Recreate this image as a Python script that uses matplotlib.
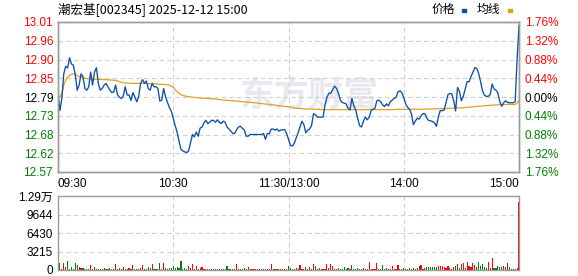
import numpy as np
import matplotlib
matplotlib.use("Agg")
import matplotlib.pyplot as plt
from matplotlib.patches import Rectangle

plt.rcParams['font.family'] = ['Liberation Sans', 'Noto Sans CJK SC', 'DejaVu Sans']

# data (minute by minute, 09:30 .. 11:30 / 13:00 .. 15:00)
prev_close = 12.79
price = [
    12.80, 12.75, 12.786, 12.858, 12.88, 12.875, 12.905, 12.887, 12.883, 12.854, 12.81,
    12.825, 12.858, 12.85, 12.815, 12.81, 12.82, 12.863, 12.825, 12.863, 12.876,
    12.83, 12.81, 12.815, 12.825, 12.83, 12.82, 12.81, 12.803, 12.805, 12.825,
    12.796, 12.789, 12.786, 12.793, 12.82, 12.796, 12.796, 12.78, 12.803, 12.79,
    12.776, 12.791, 12.83, 12.841, 12.83, 12.837, 12.815, 12.81, 12.83, 12.82,
    12.82, 12.815, 12.778, 12.781, 12.815, 12.791, 12.774, 12.759, 12.748, 12.728,
    12.706, 12.687, 12.661, 12.637, 12.632, 12.629, 12.627, 12.632, 12.656, 12.68,
    12.673, 12.687, 12.675, 12.699, 12.702, 12.714, 12.722, 12.712, 12.716, 12.722,
    12.721, 12.716, 12.723, 12.716, 12.712, 12.719, 12.716, 12.702, 12.696, 12.69,
    12.683, 12.683, 12.694, 12.702, 12.704, 12.698, 12.693, 12.675, 12.675, 12.68,
    12.68, 12.68, 12.68, 12.68, 12.68, 12.68, 12.683, 12.666, 12.683, 12.682,
    12.696, 12.696, 12.693, 12.696, 12.69, 12.693, 12.694, 12.694, 12.683, 12.666,
    12.648, 12.646, 12.654, 12.67, 12.685, 12.702, 12.719, 12.709, 12.685, 12.693,
    12.696, 12.706, 12.741, 12.738, 12.731, 12.731, 12.731, 12.731, 12.767, 12.789,
    12.801, 12.801, 12.812, 12.822, 12.815, 12.801, 12.781, 12.774, 12.772, 12.77,
    12.757, 12.752, 12.786, 12.764, 12.752, 12.728, 12.706, 12.702, 12.719, 12.731,
    12.723, 12.731, 12.75, 12.754, 12.757, 12.779, 12.781, 12.776, 12.767, 12.762,
    12.77, 12.764, 12.776, 12.781, 12.786, 12.789, 12.805, 12.808, 12.803, 12.789,
    12.77, 12.76, 12.754, 12.741, 12.709, 12.719, 12.728, 12.725, 12.735, 12.741,
    12.741, 12.728, 12.721, 12.72, 12.718, 12.714, 12.704, 12.731, 12.75, 12.75,
    12.752, 12.773, 12.797, 12.80, 12.80, 12.779, 12.749, 12.818, 12.806, 12.779,
    12.792, 12.814, 12.835, 12.835, 12.85, 12.862, 12.876, 12.874, 12.859, 12.835,
    12.808, 12.795, 12.792, 12.792, 12.797, 12.828, 12.814, 12.81, 12.802, 12.776,
    12.763, 12.773, 12.779, 12.774, 12.773, 12.773, 12.773, 12.776, 12.90, 13.00,
]
avg_price = [
    12.79, 12.79, 12.80, 12.825, 12.84, 12.848, 12.853, 12.857, 12.858, 12.857, 12.853,
    12.85, 12.848, 12.846, 12.845, 12.844, 12.843, 12.843, 12.843, 12.842, 12.842,
    12.842, 12.842, 12.841, 12.841, 12.841, 12.840, 12.840, 12.840, 12.839, 12.839,
    12.837, 12.835, 12.833, 12.832, 12.831, 12.831, 12.831, 12.830, 12.830, 12.830,
    12.830, 12.830, 12.830, 12.830, 12.830, 12.830, 12.829, 12.829, 12.829, 12.829,
    12.828, 12.828, 12.827, 12.827, 12.827, 12.826, 12.826, 12.825, 12.822, 12.818,
    12.812, 12.806, 12.801, 12.797, 12.795, 12.793, 12.792, 12.791, 12.790, 12.789,
    12.789, 12.788, 12.788, 12.787, 12.787, 12.786, 12.786, 12.786, 12.785, 12.785,
    12.784, 12.784, 12.783, 12.783, 12.782, 12.781, 12.781, 12.780, 12.780, 12.779,
    12.779, 12.778, 12.778, 12.777, 12.777, 12.776, 12.776, 12.775, 12.775, 12.774,
    12.774, 12.773, 12.773, 12.772, 12.771, 12.771, 12.770, 12.769, 12.769, 12.768,
    12.767, 12.767, 12.766, 12.765, 12.764, 12.764, 12.763, 12.762, 12.762, 12.761,
    12.760, 12.759, 12.758, 12.757, 12.757, 12.756, 12.756, 12.755, 12.755, 12.755,
    12.755, 12.755, 12.754, 12.754, 12.754, 12.754, 12.753, 12.753, 12.753, 12.753,
    12.753, 12.753, 12.753, 12.753, 12.753, 12.753, 12.753, 12.753, 12.753, 12.753,
    12.753, 12.753, 12.753, 12.753, 12.753, 12.753, 12.753, 12.753, 12.753, 12.753,
    12.753, 12.753, 12.753, 12.753, 12.753, 12.753, 12.753, 12.753, 12.753, 12.753,
    12.753, 12.753, 12.753, 12.753, 12.753, 12.754, 12.754, 12.754, 12.754, 12.754,
    12.754, 12.754, 12.754, 12.754, 12.754, 12.754, 12.754, 12.754, 12.754, 12.754,
    12.755, 12.755, 12.755, 12.755, 12.755, 12.755, 12.755, 12.756, 12.756, 12.756,
    12.756, 12.756, 12.757, 12.757, 12.757, 12.757, 12.758, 12.758, 12.758, 12.758,
    12.759, 12.759, 12.760, 12.760, 12.761, 12.761, 12.762, 12.762, 12.763, 12.763,
    12.764, 12.764, 12.765, 12.765, 12.766, 12.766, 12.766, 12.767, 12.767, 12.767,
    12.767, 12.768, 12.768, 12.768, 12.768, 12.768, 12.768, 12.768, 12.772, 12.78,
]
volume = [
    300, 1276, 232, 1276, 464, 1566, 232, 464, 232, 1160, 812,
    464, 348, 348, 232, 232, 232, 812, 232, 464, 232,
    180, 250, 150, 300, 200, 170, 350, 220, 160, 1044,
    200, 280, 150, 464, 230, 180, 300, 250, 870, 200,
    170, 260, 350, 812, 200, 150, 464, 300, 1044, 220,
    180, 260, 1276, 200, 1276, 300, 250, 350, 280, 696,
    400, 464, 350, 1566, 250, 300, 200, 696, 400, 1044,
    250, 696, 200, 300, 464, 220, 180, 250, 160, 200,
    150, 230, 180, 260, 150, 200, 170, 696, 220, 180,
    250, 150, 1044, 200, 170, 230, 300, 180, 464, 200,
    150, 250, 180, 160, 220, 150, 260, 180, 200, 170,
    1044, 200, 150, 230, 180, 160, 250, 200, 180, 696,
    300, 250, 200, 350, 180, 870, 220, 150, 464, 200,
    464, 250, 1044, 696, 200, 300, 180, 250, 200, 1044,
    300, 1044, 696, 250, 200, 300, 180, 220, 464, 200,
    300, 250, 812, 200, 180, 300, 250, 200, 300, 250,
    200, 1450, 220, 250, 180, 1276, 200, 260, 870, 220,
    300, 250, 180, 696, 250, 200, 870, 220, 250, 300,
    250, 200, 300, 180, 350, 250, 300, 696, 870, 250,
    400, 580, 580, 580, 464, 580, 464, 696, 696, 696,
    464, 350, 696, 300, 250, 464, 696, 1044, 350, 1044,
    1276, 400, 1450, 696, 580, 1276, 870, 580, 1450, 696,
    1044, 464, 300, 1450, 350, 2030, 300, 350, 696, 464,
    580, 696, 464, 1276, 464, 250, 150, 200, 300, 11832,
]

price_labels = ['13.01', '12.96', '12.90', '12.85', '12.79', '12.73', '12.68', '12.62', '12.57']
pct_labels = ['1.76%', '1.32%', '0.88%', '0.44%', '0.00%', '0.44%', '0.88%', '1.32%', '1.76%']
vol_labels = ['0', '3215', '6430', '9644', '1.29万']
vol_max = 12859
time_labels = ['09:30', '10:30', '11:30/13:00', '14:00', '15:00']

RED = '#ff0000'
GREEN = '#008000'
GRID = '#cfcfcf'
SPINE = '#9a9a9a'

fig = plt.figure(figsize=(5.78, 2.76), dpi=100)
ax = fig.add_axes([58 / 578, 1 - 172 / 276, 461 / 578, 150 / 276])
axv = fig.add_axes([58 / 578, 1 - 270 / 276, 461 / 578, 74 / 276])

t = np.arange(len(price))

# watermark
ax.text(0.545, 0.51, '东方财富', transform=ax.transAxes, ha='center', va='center',
        fontsize=25, fontweight='bold', color='#e8e8ee', family='Noto Sans CJK SC', zorder=0)

ax.plot(t, avg_price, color='#e0a020', lw=0.9, zorder=3)
ax.plot(t, price, color='#0a50a8', lw=0.95, zorder=4)

ymin, ymax = 12.57, 13.01
ax.set_xlim(0, 240)
ax.set_ylim(ymin, ymax)
yt = np.linspace(ymax, ymin, len(price_labels))
ax.set_yticks(yt)
ax.set_yticklabels(price_labels)
for i, lab in enumerate(ax.get_yticklabels()):
    lab.set_color(RED if i < 4 else ('black' if i == 4 else GREEN))
ax.set_xticks([0, 60, 120, 180, 240])
ax.set_xticklabels(time_labels)
xl = ax.get_xticklabels()
xl[0].set_horizontalalignment('left')
xl[-1].set_horizontalalignment('right')
ax.tick_params(axis='both', length=0, labelsize=8.5)
ax.tick_params(axis='y', pad=3.5)
ax.tick_params(axis='x', pad=4)
for v in [60, 120, 180]:
    ax.axvline(v, color=GRID, lw=0.8, ls=(0, (4, 3)), zorder=1)
for v in yt[1:-1]:
    ax.axhline(v, color=GRID, lw=0.8, ls=(0, (4, 3)), zorder=1)

ax2 = ax.twinx()
ax2.set_ylim(ymin, ymax)
ax2.set_yticks(yt)
ax2.set_yticklabels(pct_labels)
for i, lab in enumerate(ax2.get_yticklabels()):
    lab.set_color(RED if i < 4 else ('black' if i == 4 else GREEN))
ax2.tick_params(axis='y', length=0, labelsize=8.5, pad=4)

for a in (ax, ax2, axv):
    for s in a.spines.values():
        s.set_color(SPINE)
        s.set_linewidth(1.0)

# volume bars
colors = [RED if i == 0 or price[i] >= price[i - 1] else GREEN for i in range(len(price))]
axv.bar(t, volume, width=0.6, color=colors, linewidth=0)
axv.set_xlim(0, 240)
axv.set_ylim(0, vol_max)
vt = np.linspace(0, vol_max, len(vol_labels))
axv.set_yticks(vt)
axv.set_yticklabels(vol_labels)
axv.set_xticks([])
axv.tick_params(axis='y', length=0, labelsize=8.5, pad=3.5)
for v in [60, 120, 180]:
    axv.axvline(v, color=GRID, lw=0.8, ls=(0, (4, 3)), zorder=0)
for v in vt[1:-1]:
    axv.axhline(v, color=GRID, lw=0.8, ls=(0, (4, 3)), zorder=0)

# title + legend
fig.text(58 / 578, 1 - 9 / 276, '潮宏基[002345] 2025-12-12 15:00', ha='left', va='center',
         fontsize=9, family=['Noto Sans CJK SC', 'DejaVu Sans'])
fig.text(432 / 578, 1 - 9 / 276, '价格', ha='left', va='center', fontsize=8.5, family='Noto Sans CJK SC')
fig.text(477 / 578, 1 - 9 / 276, '均线', ha='left', va='center', fontsize=8.5, family='Noto Sans CJK SC')
fig.patches.append(Rectangle((462 / 578, 1 - 12 / 276), 4 / 578, 3 / 276, transform=fig.transFigure,
                             color='#0a50a8', figure=fig))
fig.patches.append(Rectangle((508 / 578, 1 - 12 / 276), 4 / 578, 3 / 276, transform=fig.transFigure,
                             color='#e0a020', figure=fig))

fig.savefig('out.png', dpi=100)
